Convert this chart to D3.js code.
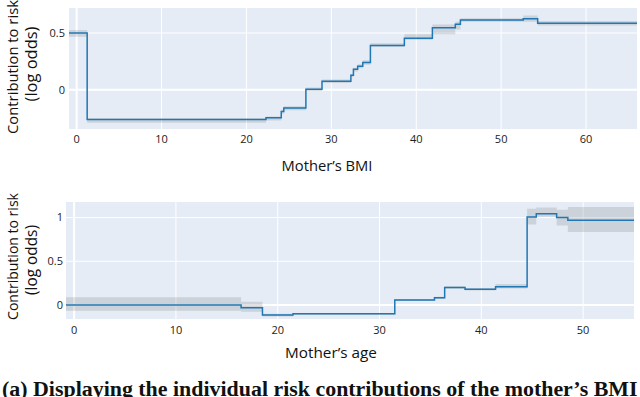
<!DOCTYPE html>
<html>
<head>
<meta charset="utf-8">
<script src="https://cdn.jsdelivr.net/npm/d3@7"></script>
<style>
  body { margin: 0; background: #fff; }
  svg { display: block; }
</style>
</head>
<body>
<svg id="chart" width="640" height="397"></svg>
<script>
// Mother's BMI: step start points, value, band low/high
const bmiX    = [-0.9, 1.24, 22.3, 24.1, 24.4, 27.0, 28.9, 32.3, 32.6, 33.1, 33.7, 34.6, 38.6, 41.9, 44.6, 45.2, 52.6, 54.3, 66.0];
const bmiY    = [0.50, -0.262, -0.246, -0.19, -0.16, 0.005, 0.075, 0.128, 0.18, 0.208, 0.24, 0.39, 0.453, 0.547, 0.577, 0.615, 0.625, 0.586, 0.586];
const bmiLow  = [0.467, -0.29, -0.27, -0.21, -0.18, -0.01, 0.06, 0.11, 0.16, 0.19, 0.22, 0.38, 0.44, 0.49, 0.53, 0.60, 0.60, 0.565, 0.565];
const bmiHigh = [0.526, -0.25, -0.235, -0.175, -0.145, 0.02, 0.09, 0.14, 0.195, 0.225, 0.26, 0.41, 0.49, 0.575, 0.60, 0.63, 0.655, 0.605, 0.605];
const bmiTicksX = [0, 10, 20, 30, 40, 50, 60];
const bmiTicksY = [0, 0.5];

// Mother's age
const ageX    = [-0.8, 16.4, 18.5, 21.5, 31.5, 35.4, 36.4, 38.4, 41.4, 44.5, 45.4, 47.4, 48.5, 55.0];
const ageY    = [0.0, -0.03, -0.115, -0.10, 0.057, 0.083, 0.20, 0.18, 0.21, 1.007, 1.045, 1.0, 0.97, 0.97];
const ageLow  = [-0.065, -0.076, -0.13, -0.115, 0.045, 0.07, 0.185, 0.165, 0.19, 0.92, 1.01, 0.91, 0.835, 0.835];
const ageHigh = [0.09, 0.038, -0.10, -0.09, 0.07, 0.095, 0.215, 0.195, 0.24, 1.10, 1.114, 1.09, 1.12, 1.12];
const ageTicksX = [0, 10, 20, 30, 40, 50];
const ageTicksY = [0, 0.5, 1];

const yLabel1 = "Contribution to risk";
const yLabel2 = "(log odds)";
const caption = "(a) Displaying the individual risk contributions of the mother\u2019s BMI";

const svg = d3.select("#chart");
const sans = "Open Sans, sans-serif";

// shrink or grow a text so it spans the given width
function fit(sel, w) {
  const n = sel.node();
  const fs = parseFloat(sel.attr("font-size"));
  sel.attr("font-size", fs * w / n.getComputedTextLength());
}

function panel(o) {
  const x = d3.scaleLinear().domain(o.xDomain).range([o.left, o.right]);
  const y = d3.scaleLinear().domain(o.yDomain).range([o.bottom, o.top]);
  const g = svg.append("g");

  g.append("rect")
    .attr("x", o.left).attr("y", o.top)
    .attr("width", o.right - o.left).attr("height", o.bottom - o.top)
    .attr("fill", "#e5ecf6");

  g.selectAll(".vg").data(o.ticksX).join("line")
    .attr("x1", d => x(d)).attr("x2", d => x(d))
    .attr("y1", o.top).attr("y2", o.bottom)
    .attr("stroke", "#fff").attr("stroke-width", d => d === 0 ? 2 : 1);
  g.selectAll(".hg").data(o.ticksY).join("line")
    .attr("x1", o.left).attr("x2", o.right)
    .attr("y1", d => y(d)).attr("y2", d => y(d))
    .attr("stroke", "#fff").attr("stroke-width", d => d === 0 ? 2 : 1);

  const pts = o.xs.map((v, i) => ({ x: v, y: o.ys[i], lo: o.lo[i], hi: o.hi[i] }));

  g.append("path").datum(pts)
    .attr("d", d3.area().curve(d3.curveStepAfter)
      .x(d => x(d.x)).y0(d => y(d.lo)).y1(d => y(d.hi)))
    .attr("fill", "rgba(120,120,120,0.22)");

  g.append("path").datum(pts)
    .attr("d", d3.line().curve(d3.curveStepAfter).x(d => x(d.x)).y(d => y(d.y)))
    .attr("fill", "none").attr("stroke", "#1f77b4").attr("stroke-width", 1.5);

  // tick labels
  g.selectAll(".xt").data(o.ticksX).join("text")
    .attr("x", d => x(d)).attr("y", o.xTickY)
    .attr("text-anchor", "middle")
    .attr("font-family", sans).attr("font-size", 11).attr("fill", "#222")
    .text(d => d);
  g.selectAll(".yt").data(o.ticksY).join("text")
    .attr("x", o.yTickX).attr("y", d => y(d)).attr("dy", "0.35em")
    .attr("text-anchor", "end")
    .attr("font-family", sans).attr("font-size", 11).attr("fill", "#222")
    .text(d => d);

  const xt = g.append("text")
    .attr("x", o.titleX).attr("y", o.titleY)
    .attr("text-anchor", "middle")
    .attr("font-family", sans).attr("font-size", 13).attr("fill", "#111")
    .text(o.title);
  fit(xt, o.titleW);

  const l1 = g.append("text")
    .attr("transform", `translate(18,${o.labelMid}) rotate(-90)`)
    .attr("text-anchor", "middle")
    .attr("font-family", sans).attr("font-size", 14).attr("fill", "#111")
    .text(yLabel1);
  fit(l1, o.label1W);
  const l2 = g.append("text")
    .attr("transform", `translate(37,${o.labelMid2}) rotate(-90)`)
    .attr("text-anchor", "middle")
    .attr("font-family", sans).attr("font-size", 14).attr("fill", "#111")
    .text(yLabel2);
  fit(l2, o.label2W);
}

panel({
  xs: bmiX, ys: bmiY, lo: bmiLow, hi: bmiHigh,
  xDomain: [-0.9, 66.0], yDomain: [-0.345, 0.72],
  left: 69, right: 637, top: 8, bottom: 129,
  ticksX: bmiTicksX, ticksY: bmiTicksY,
  xTickY: 143, yTickX: 65,
  title: "Mother\u2019s BMI", titleX: 327, titleY: 171, titleW: 91,
  labelMid: 67, labelMid2: 64, label1W: 134, label2W: 75
});

panel({
  xs: ageX, ys: ageY, lo: ageLow, hi: ageHigh,
  xDomain: [-0.8, 55.0], yDomain: [-0.16, 1.178],
  left: 66, right: 634, top: 202, bottom: 319,
  ticksX: ageTicksX, ticksY: ageTicksY,
  xTickY: 334, yTickX: 63,
  title: "Mother\u2019s age", titleX: 331, titleY: 358, titleW: 92,
  labelMid: 256.5, labelMid2: 260, label1W: 127, label2W: 70
});

const cap = svg.append("text")
  .attr("x", 2).attr("y", 396)
  .attr("font-family", "Liberation Serif, serif").attr("font-weight", "bold")
  .attr("font-size", 20).attr("fill", "#111")
  .text(caption);
fit(cap, 636);
</script>
</body>
</html>
